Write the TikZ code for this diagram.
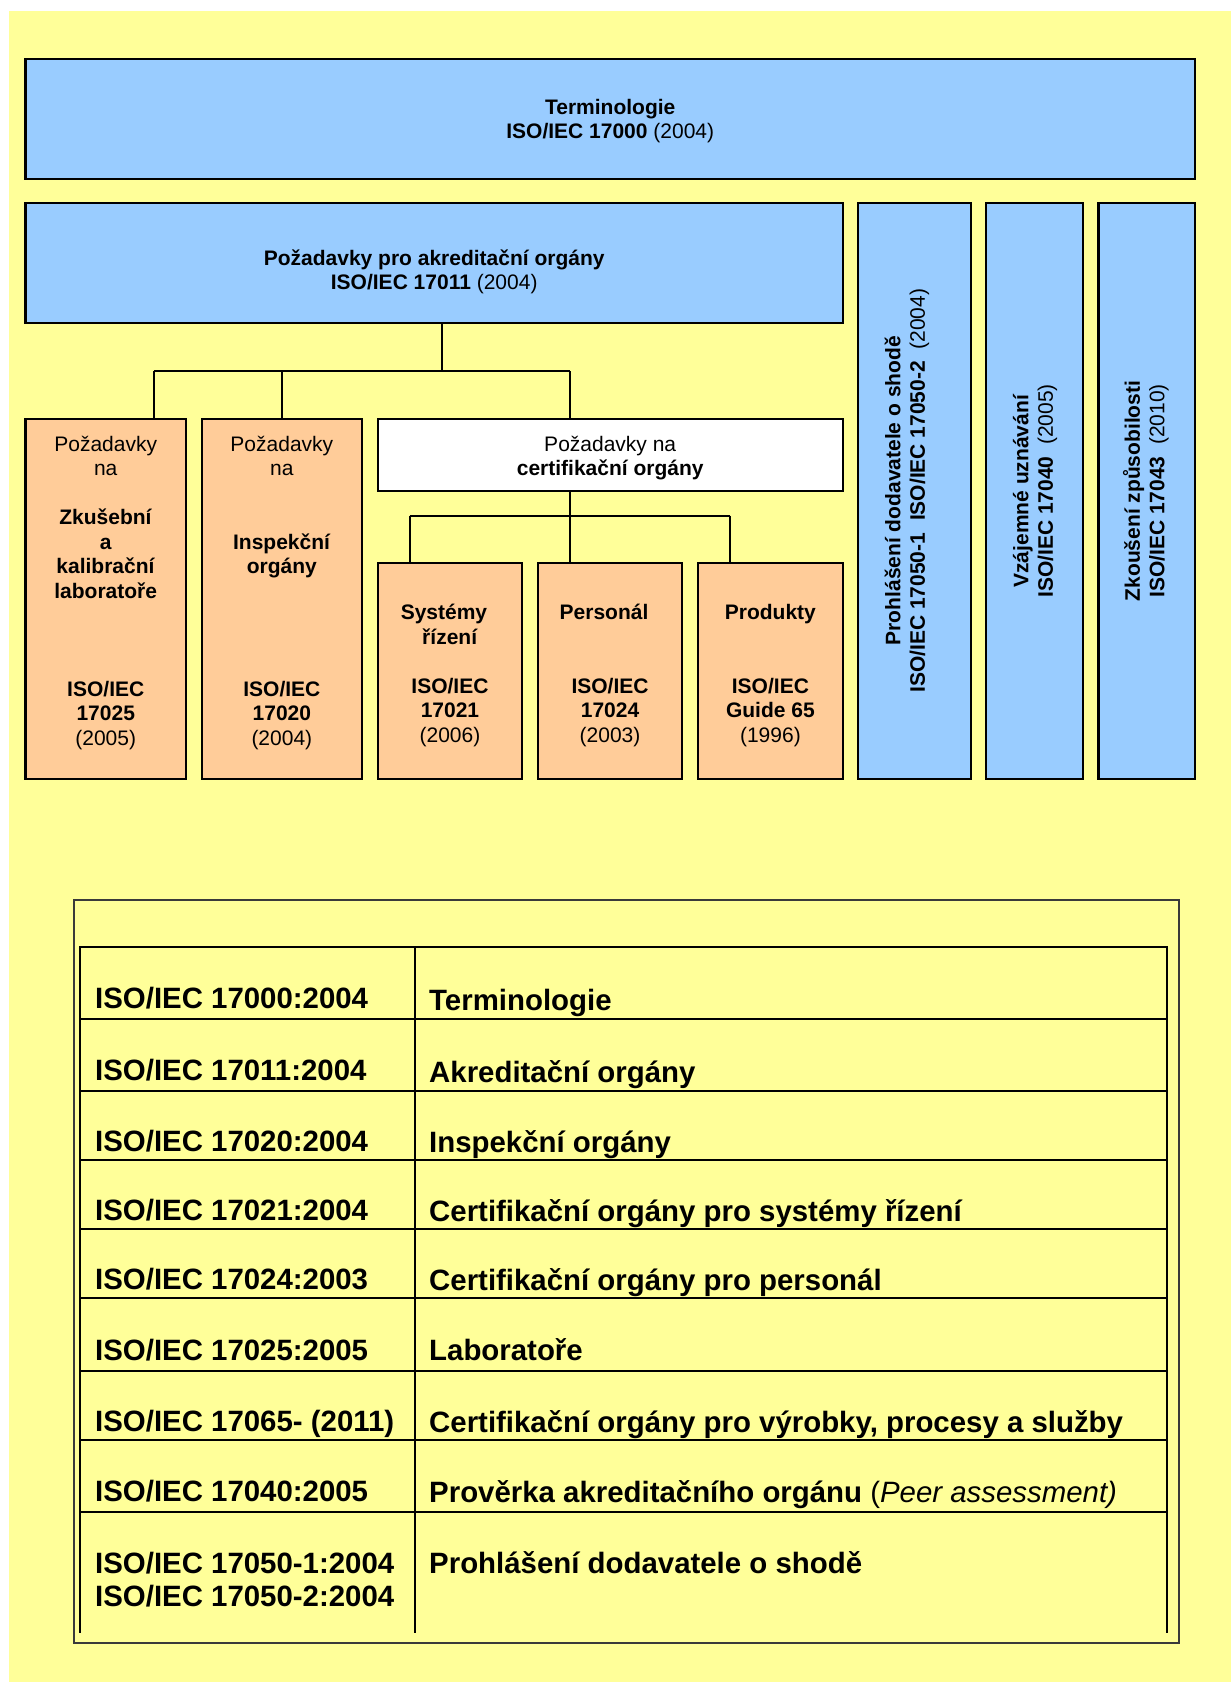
\documentclass[tikz,border=0pt]{standalone}
\usepackage{fontspec}
\setmainfont{Liberation Sans}
\definecolor{bgyellow}{HTML}{FFFF99}
\definecolor{boxblue}{HTML}{99CCFF}
\definecolor{boxorange}{HTML}{FFCC99}
\definecolor{framegray}{HTML}{3A3A3A}
\tikzset{
 boxshape/.style={draw=black, line width=2.2pt, rectangle, inner sep=0pt, outer sep=0pt},
 bluebox/.style={boxshape, fill=boxblue},
 orangebox/.style={boxshape, fill=boxorange},
 whitebox/.style={boxshape, fill=white},
 boxtext/.style={align=center, inner sep=0pt, font=\fontsize{21}{24.5}\selectfont},
 conn/.style={draw=black, line width=2pt},
 tabline/.style={draw=black, line width=2pt},
 celltext/.style={anchor=base west, inner sep=0pt, font=\fontsize{29.4}{33}\selectfont\bfseries},
}
\begin{document}
\begin{tikzpicture}[x=1pt,y=-1pt]
\useasboundingbox (0,0) rectangle (1231,1682);
\fill[bgyellow] (9,11) rectangle (1231,1682);

% boxes
\node[bluebox, minimum width=1169.5pt, minimum height=120pt] (T) at (610.25,119) {};
\node[bluebox, minimum width=817.3pt, minimum height=120pt] (A) at (434.15,263) {};
\node[bluebox, minimum width=112.6pt, minimum height=576pt] (V1) at (914.3,491) {};
\node[bluebox, minimum width=96.7pt, minimum height=576pt] (V2) at (1034.35,491) {};
\node[bluebox, minimum width=96.6pt, minimum height=576pt] (V3) at (1146.7,491) {};
\node[orangebox, minimum width=160.5pt, minimum height=360pt] (Lab) at (105.75,599) {};
\node[orangebox, minimum width=160.3pt, minimum height=360pt] (Insp) at (281.85,599) {};
\node[whitebox, minimum width=465.2pt, minimum height=72pt] (Cert) at (610.2,455) {};
\node[orangebox, minimum width=144.7pt, minimum height=216pt] (Sys) at (449.95,671) {};
\node[orangebox, minimum width=144.5pt, minimum height=216pt] (Per) at (610.05,671) {};
\node[orangebox, minimum width=144.8pt, minimum height=216pt] (Pro) at (770.4,671) {};

% box texts
\node[boxtext] (tT) at (610.25,121) {\textbf{Terminologie}\\\textbf{ISO/IEC 17000} (2004)};
\node[boxtext] (tA) at (434.2,272) {\textbf{Požadavky pro akreditační orgány}\\\textbf{ISO/IEC 17011} (2004)};
\node[boxtext] (tLab) at (105.75,593) {Požadavky\\na\\[24.5pt]\textbf{Zkušební}\\\textbf{a}\\\textbf{kalibrační}\\\textbf{laboratoře}\\[73.5pt]\textbf{ISO/IEC}\\\textbf{17025}\\(2005)};
\node[boxtext] (tInsp) at (281.85,593) {Požadavky\\na\\[49pt]\textbf{Inspekční}\\\textbf{orgány}\\[98pt]\textbf{ISO/IEC}\\\textbf{17020}\\(2004)};
\node[boxtext] (tCert) at (610.2,458) {Požadavky na\\\textbf{certifikační orgány}};
\node[boxtext] (tSys) at (449.95,675.5) {\textbf{Systémy}\hspace*{12pt}\\\textbf{řízení}\\[24.5pt]\textbf{ISO/IEC}\\\textbf{17021}\\(2006)};
\node[boxtext] (tPer) at (610.05,675.5) {\textbf{Personál}\hspace*{12pt}\\[49pt]\textbf{ISO/IEC}\\\textbf{17024}\\(2003)};
\node[boxtext] (tPro) at (770.4,675.5) {\textbf{Produkty}\\[49pt]\textbf{ISO/IEC}\\\textbf{Guide 65}\\(1996)};
\node[boxtext, rotate=90] (tV1) at (907,490.6) {\textbf{Prohlášení dodavatele o shodě}\\\textbf{ISO/IEC 17050-1\ \ ISO/IEC 17050-2}\ \ (2004)};
\node[boxtext, rotate=90] (tV2) at (1035,491) {\textbf{Vzájemné uznávání}\\\textbf{ISO/IEC 17040}\ \ (2005)};
\node[boxtext, rotate=90] (tV3) at (1145.8,491) {\textbf{Zkoušení způsobilosti}\\\textbf{ISO/IEC 17043}\ \ (2010)};

% connectors
\coordinate (jA) at (441.8,371);
\coordinate (jAL) at (153.8,371);
\coordinate (jAM) at (282,371);
\coordinate (jAR) at (569.8,371);
\draw[conn] (A.south -| jA) -- (jA);
\draw[conn] (jAL) -- (jAR);
\draw[conn] (jAL) -- (jAL |- Lab.north);
\draw[conn] (jAM) -- (jAM |- Insp.north);
\draw[conn] (jAR) -- (jAR |- Cert.north);
\coordinate (jC) at (569.8,515.7);
\coordinate (jCL) at (409.6,515.7);
\coordinate (jCR) at (730,515.7);
\draw[conn] (Cert.south -| jC) -- (jC);
\draw[conn] (jCL) -- (jCR);
\draw[conn] (jCL) -- (jCL |- Sys.north);
\draw[conn] (jC) -- (jC |- Per.north);
\draw[conn] (jCR) -- (jCR |- Pro.north);

% table frame
\node[draw=framegray, line width=2pt, rectangle, inner sep=0pt, outer sep=0pt, minimum width=1104.5pt, minimum height=743.5pt] (frame) at (626.25,1271.25) {};
\draw[tabline] (80,947) -- (1167,947);
\draw[tabline] (80,946) -- (80,1632.5);
\draw[tabline] (1167,946) -- (1167,1632.5);
\draw[tabline] (415,947) -- (415,1632.5);
\foreach \yy in {1019,1090.8,1159.6,1228.5,1297.8,1370.7,1440.4,1512.1}
  \draw[tabline] (80,\yy) -- (1167,\yy);

% table texts
\node[celltext] (c1l) at (95,1008) {ISO/IEC 17000:2004};
\node[celltext] (c1r) at (429,1010.5) {Terminologie};
\node[celltext] (c2l) at (95,1080) {ISO/IEC 17011:2004};
\node[celltext] (c2r) at (429,1082.5) {Akreditační orgány};
\node[celltext] (c3l) at (95,1151.5) {ISO/IEC 17020:2004};
\node[celltext] (c3r) at (429,1152) {Inspekční orgány};
\node[celltext] (c4l) at (95,1220.5) {ISO/IEC 17021:2004};
\node[celltext] (c4r) at (429,1221) {Certifikační orgány pro systémy řízení};
\node[celltext] (c5l) at (95,1289) {ISO/IEC 17024:2003};
\node[celltext] (c5r) at (429,1290) {Certifikační orgány pro personál};
\node[celltext] (c6l) at (95,1360.5) {ISO/IEC 17025:2005};
\node[celltext] (c6r) at (429,1360) {Laboratoře};
\node[celltext] (c7l) at (95,1431) {ISO/IEC 17065- (2011)};
\node[celltext] (c7r) at (429,1432) {Certifikační orgány pro výrobky, procesy a služby};
\node[celltext] (c8l) at (95,1501) {ISO/IEC 17040:2005};
\node[celltext] (c8r) at (429,1502.5) {Prověrka akreditačního orgánu {\mdseries(\itshape Peer assessment)}};
\node[celltext] (c9l) at (95,1573) {ISO/IEC 17050-1:2004};
\node[celltext] (c9m) at (95,1606) {ISO/IEC 17050-2:2004};
\node[celltext] (c9r) at (429,1573.5) {Prohlášení dodavatele o shodě};
\end{tikzpicture}
\end{document}
